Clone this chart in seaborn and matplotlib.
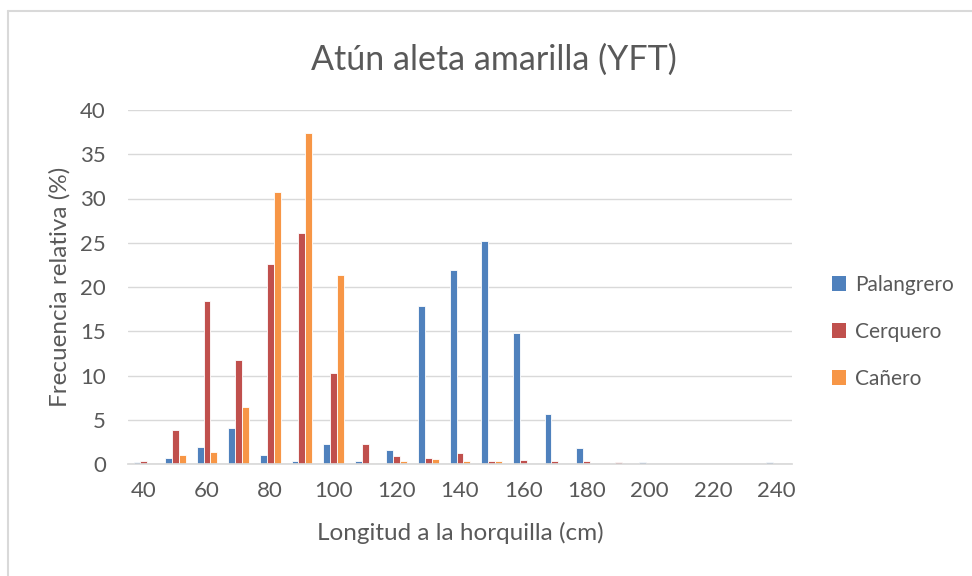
import numpy as np
import pandas as pd
import matplotlib
matplotlib.use("Agg")
import matplotlib.pyplot as plt
import seaborn as sns
from matplotlib.patches import Patch

longitud = [40, 50, 60, 70, 80, 90, 100, 110, 120, 130, 140,
            150, 160, 170, 180, 190, 200, 210, 220, 230, 240]
palangrero = [0.2, 0.7, 1.9, 4.1, 1.0, 0.3, 2.3, 0.3, 1.6, 17.9, 21.9,
              25.2, 14.8, 5.6, 1.8, 0.0, 0.2, 0.0, 0.0, 0.0, 0.2]
cerquero = [0.3, 3.8, 18.4, 11.7, 22.6, 26.1, 10.3, 2.3, 0.9, 0.7, 1.2,
            0.3, 0.5, 0.3, 0.3, 0.2, 0.0, 0.0, 0.0, 0.0, 0.0]
canero = [0.0, 1.0, 1.3, 6.4, 30.7, 37.4, 21.3, 0.15, 0.3, 0.55, 0.3,
          0.3, 0.0, 0.0, 0.0, 0.0, 0.0, 0.0, 0.0, 0.0, 0.0]
series = ["Palangrero", "Cerquero", "Cañero"]
colores = ["#4F81BD", "#C0504D", "#F79646"]

df = pd.DataFrame({
    "Longitud": [str(v) for v in longitud] * 3,
    "Frecuencia": palangrero + cerquero + canero,
    "Arte": np.repeat(series, len(longitud)),
})

sns.set_theme(style="white")
plt.rcParams["font.family"] = ["Lato", "DejaVu Sans"]
gris = "#595959"

fig = plt.figure(figsize=(9.72, 5.76), dpi=100)
ax = fig.add_axes([128 / 972, 1 - 464 / 576, (792 - 128) / 972, (464 - 110) / 576])

sns.barplot(data=df, x="Longitud", y="Frecuencia", hue="Arte",
            palette=colores, width=0.65, ax=ax, legend=False,
            edgecolor="white", linewidth=0.6, saturation=1)

ax.set_ylim(0, 40)
ax.set_yticks(range(0, 41, 5))
ax.set_xlim(-0.5, len(longitud) - 0.5)
ax.set_xticks(range(0, len(longitud), 2))
ax.set_xticklabels([str(v) for v in longitud[::2]])
ax.yaxis.grid(True, color="#d9d9d9", linewidth=1)
ax.set_axisbelow(True)
for s in ["top", "right", "left"]:
    ax.spines[s].set_visible(False)
ax.spines["bottom"].set_color("#d9d9d9")
ax.tick_params(axis="both", length=0, labelsize=16, colors=gris)
ax.tick_params(axis="x", pad=12)
ax.tick_params(axis="y", pad=16)

ax.set_xlabel("")
ax.set_ylabel("")
fig.text(460 / 972, 1 - 533 / 576, "Longitud a la horquilla (cm)", fontsize=17.5,
         color=gris, ha="center", va="center")
fig.text(60 / 972, 1 - 287 / 576, "Frecuencia relativa (%)", fontsize=17.5,
         color=gris, ha="center", va="center", rotation=90)
fig.text(494 / 972, 1 - 60 / 576, "Atún aleta amarilla (YFT)", fontsize=24.5,
         color=gris, ha="center", va="center")

handles = [Patch(facecolor=c, edgecolor="none") for c in colores]
fig.legend(handles, series, loc="center left", bbox_to_anchor=(813 / 972, 1 - 332 / 576),
           frameon=False, fontsize=15, labelcolor=gris, handlelength=0.7,
           handleheight=0.7, handletextpad=0.4, labelspacing=1.3)

# borde del área del gráfico
fig.add_artist(plt.Line2D([8 / 972, 8 / 972], [0, 1 - 11 / 576], color="#d9d9d9",
                          linewidth=1.5, transform=fig.transFigure))
fig.add_artist(plt.Line2D([8 / 972, 1], [1 - 11 / 576, 1 - 11 / 576], color="#d9d9d9",
                          linewidth=1.5, transform=fig.transFigure))

fig.savefig("out.png", dpi=100)
